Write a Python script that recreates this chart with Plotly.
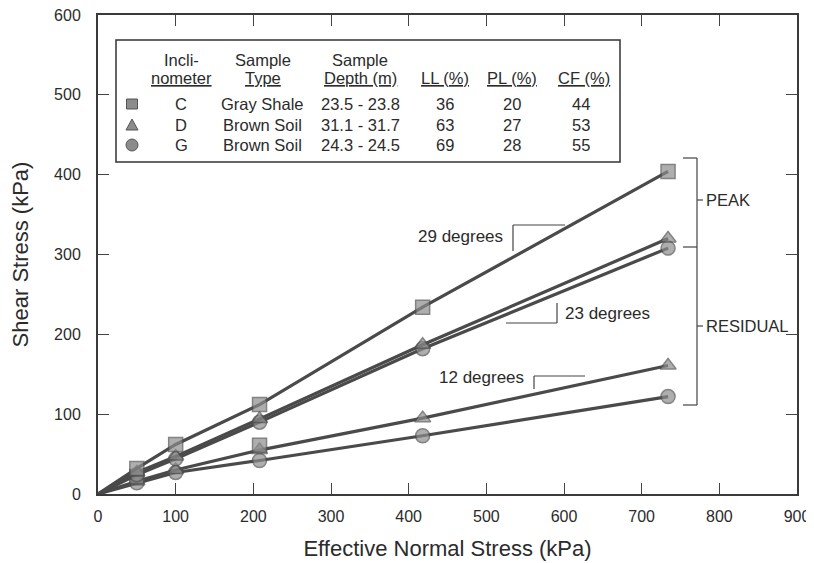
import plotly.graph_objects as go

# ---------------- data ----------------
normal_stress = [50, 100, 208, 418, 734]
peak_C = [32, 62, 112, 234, 404]
peak_D = [27, 47, 94, 187, 320]
peak_G = [24, 44, 90, 182, 308]
resid_C_x = [50, 208]
resid_C = [22, 61]
resid_D = [16, 30, 55, 95, 161]
resid_G = [14, 27, 42, 73, 122]

x_ticks = [0, 100, 200, 300, 400, 500, 600, 700, 800, 900]
y_ticks = [0, 100, 200, 300, 400, 500, 600]

table_header1 = ["Incli-", "Sample", "Sample"]
table_header2 = ["nometer", "Type", "Depth (m)", "LL (%)", "PL (%)", "CF (%)"]
table_rows = [
    ["C", "Gray Shale", "23.5 - 23.8", "36", "20", "44"],
    ["D", "Brown Soil", "31.1 - 31.7", "63", "27", "53"],
    ["G", "Brown Soil", "24.3 - 24.5", "69", "28", "55"],
]

FONT = "Liberation Sans, Arial, Helvetica, sans-serif"
TXT = "#2b2b2b"
LINE = "#4a4a4a"
FILL = "#8c8c8c"

# page body has an 8px margin; figure is placed inside it
OFF = 8
FIG_W, FIG_H = 814 - OFF, 563 - OFF
# target plot area in screen pixels
L, R, T, B = 98, 797, 15, 494


def px(x):
    return (x - L) / (R - L)


def py(y):
    return (B - y) / (B - T)


fig = go.Figure()


def add_series(xs, ys, symbol, name, mode="lines+markers"):
    if mode == "lines+markers":
        xs2, ys2 = [0] + list(xs), [0] + list(ys)
        sizes = [0] + [14] * len(xs)
    else:
        xs2, ys2 = list(xs), list(ys)
        sizes = [14] * len(xs)
    fig.add_trace(go.Scatter(
        x=xs2, y=ys2, mode=mode, name=name,
        line=dict(color=LINE, width=3.2),
        marker=dict(symbol=symbol, size=sizes, color=FILL,
                    line=dict(color="#505050", width=1.5)),
        showlegend=False, hoverinfo="skip"))


add_series(normal_stress, resid_G, "circle", "Residual G")
add_series(normal_stress, resid_D, "triangle-up", "Residual D")
add_series(resid_C_x, resid_C, "square", "Residual C", mode="markers")
add_series(normal_stress, peak_G, "circle", "Peak G")
add_series(normal_stress, peak_D, "triangle-up", "Peak D")
add_series(normal_stress, peak_C, "square", "Peak C")

shapes = []
ann = []


def seg(x0, y0, x1, y1, w=1.2, c="#444"):
    shapes.append(dict(type="line", xref="paper", yref="paper",
                       x0=px(x0), y0=py(y0), x1=px(x1), y1=py(y1),
                       line=dict(color=c, width=w)))


def text(x, y, s, xanchor="center", size=16.5):
    ann.append(dict(x=px(x), y=py(y), xref="paper", yref="paper", text=s,
                    showarrow=False, xanchor=xanchor, yanchor="middle",
                    font=dict(family=FONT, size=size, color=TXT)))


# table box
shapes.append(dict(type="rect", xref="paper", yref="paper",
                   x0=px(116), y0=py(162), x1=px(620), y1=py(40),
                   line=dict(color="#333", width=1.5), fillcolor="white", layer="above"))

hdr1_x = [181, 263, 360]
hdr2_x = [181, 263, 360, 445, 512, 584]
col_x = [181, 262, 360, 445, 512, 581]
for s, x in zip(table_header1, hdr1_x):
    text(x, 60, s)
for s, x in zip(table_header2, hdr2_x):
    text(x, 78, "<u>" + s + "</u>")
row_y = [104, 125, 145]
for row, y in zip(table_rows, row_y):
    for s, x in zip(row, col_x):
        text(x, y, s)

# table symbols
mx = 132
shapes.append(dict(type="rect", xref="paper", yref="paper",
                   x0=px(mx - 5.5), x1=px(mx + 5.5), y0=py(row_y[0] + 5), y1=py(row_y[0] - 5),
                   fillcolor=FILL, line=dict(color="#555", width=1), layer="above"))
shapes.append(dict(type="path", xref="paper", yref="paper",
                   path="M {} {} L {} {} L {} {} Z".format(px(mx - 6), py(row_y[1] + 5),
                                                          px(mx + 6), py(row_y[1] + 5),
                                                          px(mx), py(row_y[1] - 6)),
                   fillcolor=FILL, line=dict(color="#555", width=1), layer="above"))
shapes.append(dict(type="circle", xref="paper", yref="paper",
                   x0=px(mx - 6), x1=px(mx + 6), y0=py(row_y[2] + 6), y1=py(row_y[2] - 6),
                   fillcolor=FILL, line=dict(color="#555", width=1), layer="above"))

# slope indicators
text(461, 236, "29 degrees", size=17)
seg(513, 225, 513, 251)
seg(513, 225, 565, 225)

text(607, 313, "23 degrees", size=17)
seg(557, 303, 557, 323)
seg(506, 323, 557, 323)

text(481, 378, "12 degrees", size=17)
seg(534, 376, 534, 389)
seg(534, 376, 585, 376)

# right bracket
seg(697, 158, 697, 405)
seg(683, 158, 697, 158)
seg(683, 247, 697, 247)
seg(683, 405, 697, 405)
seg(697, 200, 703, 200)
seg(697, 326, 703, 326)
text(704, 200, "PEAK", xanchor="left", size=16.5)
text(704, 326, "RESIDUAL", xanchor="left", size=16.5)

axis_common = dict(showgrid=False, zeroline=False, showline=True, linecolor="#3a3a3a",
                   linewidth=2, mirror="ticks", ticks="inside", ticklen=11,
                   tickwidth=1.2, tickcolor="#444", automargin=False,
                   ticklabeloverflow="allow",
                   tickfont=dict(family=FONT, size=16, color=TXT))

fig.update_layout(
    width=FIG_W, height=FIG_H,
    margin=dict(l=L - OFF, r=FIG_W - (R - OFF), t=T - OFF, b=FIG_H - (B - OFF), pad=0),
    paper_bgcolor="white", plot_bgcolor="white",
    xaxis=dict(range=[0, 900], tickvals=x_ticks, ticklabelstandoff=7,
               title=dict(text="Effective Normal Stress (kPa)", standoff=16,
                          font=dict(family=FONT, size=22, color=TXT)),
               **axis_common),
    yaxis=dict(range=[0, 600], tickvals=y_ticks, ticklabelstandoff=12,
               title=dict(text="Shear Stress (kPa)", standoff=20,
                          font=dict(family=FONT, size=22, color=TXT)),
               **axis_common),
    shapes=shapes, annotations=ann,
)

fig.write_html("out.html")
